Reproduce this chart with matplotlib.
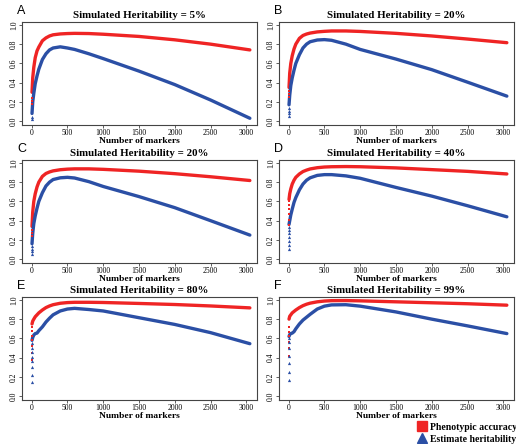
import matplotlib
matplotlib.use("Agg")
import matplotlib.pyplot as plt
from matplotlib.lines import Line2D

plt.rcParams["font.family"] = ["Liberation Serif", "DejaVu Serif"]

RED = "#ef2424"
BLUE = "#2b4fa5"

# common marker grid for the smooth part of every curve
markers = [5, 15, 30, 50, 75, 100, 150, 200, 250, 300, 400, 500, 600, 800,
           1000, 1500, 2000, 2500, 3050]

panel_letters = ["A", "B", "C", "D", "E", "F"]
heritability_labels = ["5%", "20%", "20%", "40%", "80%", "99%"]

# phenotypic accuracy on the marker grid
acc_a = [0.30, 0.45, 0.56, 0.66, 0.73, 0.77, 0.835, 0.865, 0.885, 0.897, 0.906, 0.91,
         0.912, 0.91, 0.903, 0.88, 0.845, 0.80, 0.74]
acc_b = [0.35, 0.50, 0.60, 0.68, 0.75, 0.80, 0.86, 0.89, 0.905, 0.915, 0.927, 0.933,
         0.937, 0.937, 0.932, 0.912, 0.885, 0.853, 0.815]
acc_c = [0.34, 0.49, 0.60, 0.68, 0.75, 0.80, 0.86, 0.89, 0.906, 0.917, 0.929, 0.935,
         0.938, 0.938, 0.933, 0.914, 0.888, 0.856, 0.817]
acc_d = [0.62, 0.68, 0.73, 0.78, 0.82, 0.85, 0.885, 0.91, 0.925, 0.937, 0.95, 0.957,
         0.96, 0.962, 0.96, 0.948, 0.93, 0.912, 0.885]
acc_e = [0.75, 0.78, 0.80, 0.825, 0.845, 0.865, 0.895, 0.92, 0.937, 0.95, 0.965, 0.972,
         0.975, 0.975, 0.973, 0.963, 0.952, 0.937, 0.917]
acc_f = [0.80, 0.83, 0.845, 0.865, 0.88, 0.895, 0.92, 0.94, 0.955, 0.966, 0.98, 0.988,
         0.992, 0.993, 0.99, 0.98, 0.97, 0.96, 0.945]

# estimated heritability on the marker grid
her_a = [0.08, 0.20, 0.29, 0.39, 0.47, 0.54, 0.64, 0.70, 0.74, 0.76, 0.772, 0.76,
         0.745, 0.70, 0.65, 0.52, 0.38, 0.22, 0.03]
her_b = [0.17, 0.27, 0.37, 0.45, 0.53, 0.60, 0.69, 0.76, 0.80, 0.825, 0.843, 0.847,
         0.84, 0.80, 0.745, 0.645, 0.535, 0.405, 0.26]
her_c = [0.16, 0.27, 0.37, 0.45, 0.53, 0.60, 0.69, 0.76, 0.80, 0.827, 0.845, 0.85,
         0.843, 0.805, 0.755, 0.65, 0.535, 0.40, 0.25]
her_d = [0.36, 0.40, 0.46, 0.52, 0.59, 0.64, 0.72, 0.78, 0.82, 0.845, 0.87, 0.878,
         0.878, 0.865, 0.84, 0.745, 0.655, 0.555, 0.44]
her_e = [0.58, 0.61, 0.635, 0.65, 0.655, 0.68, 0.72, 0.77, 0.81, 0.845, 0.885, 0.905,
         0.912, 0.90, 0.885, 0.815, 0.745, 0.66, 0.545]
her_f = [0.62, 0.64, 0.65, 0.655, 0.67, 0.70, 0.75, 0.79, 0.82, 0.85, 0.905, 0.935,
         0.948, 0.95, 0.935, 0.875, 0.80, 0.73, 0.65]

# the first few marker counts show up as separate dots
dots_acc_a = [0.18, 0.21, 0.24]
dots_acc_b = [0.25, 0.28, 0.31]
dots_acc_c = [0.24, 0.27, 0.30]
dots_acc_d = [0.35, 0.41, 0.47, 0.52, 0.56, 0.60]
dots_acc_e = [0.38, 0.45, 0.52, 0.58, 0.63, 0.68, 0.72]
dots_acc_f = [0.42, 0.50, 0.56, 0.62, 0.67, 0.72]
dots_her_a = [0.02, 0.04]
dots_her_b = [0.05, 0.08, 0.11, 0.14]
dots_her_c = [0.05, 0.08, 0.11, 0.14]
dots_her_d = [0.11, 0.15, 0.19, 0.23, 0.27, 0.30, 0.33]
dots_her_e = [0.15, 0.22, 0.30, 0.37, 0.41, 0.46, 0.50, 0.55]
dots_her_f = [0.17, 0.25, 0.34, 0.42, 0.50, 0.56, 0.60]

acc_all = [acc_a, acc_b, acc_c, acc_d, acc_e, acc_f]
her_all = [her_a, her_b, her_c, her_d, her_e, her_f]
dots_acc_all = [dots_acc_a, dots_acc_b, dots_acc_c, dots_acc_d, dots_acc_e, dots_acc_f]
dots_her_all = [dots_her_a, dots_her_b, dots_her_c, dots_her_d, dots_her_e, dots_her_f]

W, H = 516, 444
fig = plt.figure(figsize=(W / 100, H / 100), dpi=100)

lefts = [22, 279]
tops = [22, 160, 297]
ax_w, ax_h = 235, 103

for i in range(6):
    row, col = divmod(i, 2)
    l, t = lefts[col], tops[row]
    ax = fig.add_axes([l / W, 1 - (t + ax_h) / H, ax_w / W, ax_h / H])

    ax.plot(markers, acc_all[i], color=RED, lw=2.4, solid_capstyle="round", zorder=3)
    ax.plot(markers, her_all[i], color=BLUE, lw=2.4, solid_capstyle="round", zorder=3)
    dx = list(range(1, len(dots_acc_all[i]) + 1))
    ax.plot(dx, dots_acc_all[i], "s", color=RED, ms=2.0, mew=0, zorder=4)
    dx = list(range(1, len(dots_her_all[i]) + 1))
    ax.plot(dx, dots_her_all[i], "^", color=BLUE, ms=2.3, mew=0, zorder=4)

    ax.set_xlim(-135, 3150)
    ax.set_ylim(-0.04, 1.03)
    ax.set_xticks(range(0, 3001, 500))
    ax.set_yticks([0.0, 0.2, 0.4, 0.6, 0.8, 1.0])
    ax.set_yticklabels(["0.0", "0.2", "0.4", "0.6", "0.8", "1.0"], rotation=90, va="center")
    ax.tick_params(labelsize=5.5, length=2, width=0.6, pad=1, color="#444444")
    for s in ax.spines.values():
        s.set_linewidth(0.8)
        s.set_color("#444444")

    ax.set_title("Simulated Heritability = " + heritability_labels[i],
                 fontsize=7.8, fontweight="bold", pad=3)
    ax.set_xlabel("Number of markers", fontsize=6.8, fontweight="bold", labelpad=0)
    fig.text((l - 5) / W, 1 - (t - 11) / H, panel_letters[i], fontsize=9,
             family="Liberation Sans", va="center", ha="left")

handles = [
    Line2D([], [], marker="s", color=RED, ls="none", ms=6.5),
    Line2D([], [], marker="^", color=BLUE, ls="none", ms=7),
]
fig.legend(handles, ["Phenotypic accuracy", "Estimate heritability"],
           loc="upper left", bbox_to_anchor=(412 / W, 1 - 419 / H), frameon=False,
           prop={"family": "Liberation Serif", "weight": "bold", "size": 7},
           handletextpad=0.2, labelspacing=0.3, borderaxespad=0, handlelength=1.2)

fig.savefig("out.png", dpi=100)
